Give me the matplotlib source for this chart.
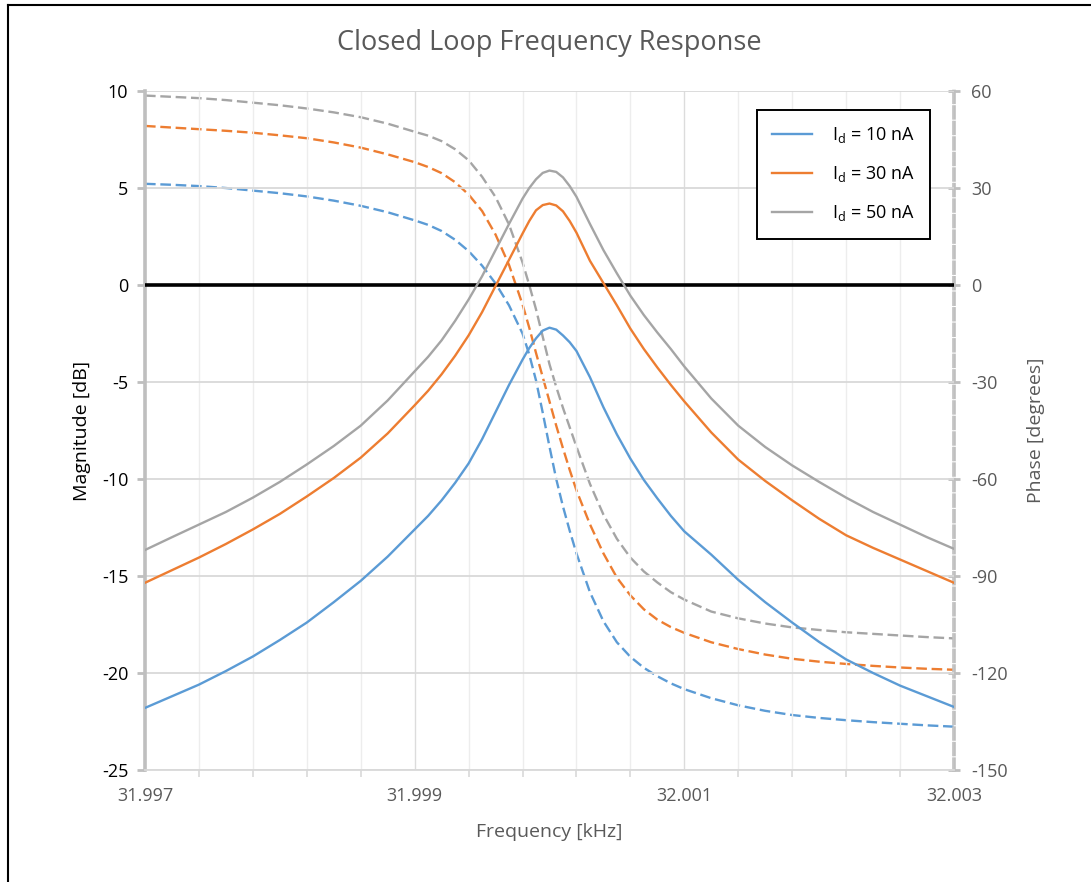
import numpy as np
import matplotlib
matplotlib.use('Agg')
import matplotlib.pyplot as plt
from matplotlib.lines import Line2D
from matplotlib.ticker import MultipleLocator, FixedLocator

plt.rcParams['font.family'] = ['Open Sans', 'DejaVu Sans']
plt.rcParams['mathtext.fontset'] = 'custom'
plt.rcParams['mathtext.rm'] = 'Open Sans'
plt.rcParams['mathtext.it'] = 'Open Sans'
plt.rcParams['axes.unicode_minus'] = False

# frequency points [kHz]
freq = [31.9970, 31.9972, 31.9974, 31.9976, 31.9978, 31.9980, 31.9982, 31.9984, 31.9986, 31.9988,
        31.9990, 31.9991, 31.9992, 31.9993, 31.9994, 31.9995, 31.9996, 31.9997, 31.9998, 31.99985,
        31.9999, 31.99995, 32.0000, 32.00005, 32.0001, 32.00015, 32.0002, 32.0003, 32.0004, 32.0005,
        32.0006, 32.0007, 32.0008, 32.0009, 32.0010,
        32.0012, 32.0014, 32.0016, 32.0018, 32.0020, 32.0022, 32.0024, 32.0026, 32.0028, 32.0030]

# magnitude [dB]
mag_10 = [-21.8, -21.2, -20.6, -19.9, -19.15, -18.3, -17.4, -16.35, -15.25, -14.0,
          -12.6, -11.9, -11.1, -10.2, -9.2, -7.95, -6.55, -5.15, -3.85, -3.25,
          -2.75, -2.35, -2.2, -2.3, -2.6, -2.95, -3.4, -4.75, -6.3, -7.7,
          -8.95, -10.05, -11.0, -11.9, -12.7,
          -13.9, -15.2, -16.35, -17.4, -18.4, -19.3, -20.0, -20.65, -21.2, -21.75]
mag_30 = [-15.35, -14.7, -14.05, -13.35, -12.6, -11.8, -10.9, -9.95, -8.9, -7.65,
          -6.2, -5.45, -4.6, -3.65, -2.6, -1.4, -0.05, 1.3, 2.65, 3.3,
          3.85, 4.12, 4.2, 4.1, 3.8, 3.3, 2.7, 1.25, 0.1, -1.05,
          -2.25, -3.3, -4.25, -5.15, -6.0,
          -7.6, -9.0, -10.1, -11.1, -12.05, -12.9, -13.55, -14.15, -14.75, -15.35]
mag_50 = [-13.66, -13.0, -12.35, -11.7, -10.96, -10.15, -9.25, -8.3, -7.25, -5.95,
          -4.45, -3.7, -2.85, -1.85, -0.75, 0.45, 1.8, 3.15, 4.45, 5.0,
          5.45, 5.78, 5.9, 5.83, 5.55, 5.1, 4.55, 3.15, 1.8, 0.6,
          -0.55, -1.55, -2.45, -3.3, -4.2,
          -5.85, -7.25, -8.35, -9.3, -10.15, -10.96, -11.7, -12.35, -13.0, -13.6]

# phase [degrees]
ph_10 = [31.3, 31.0, 30.6, 30.0, 29.2, 28.4, 27.4, 26.1, 24.5, 22.5,
         20.0, 18.6, 16.7, 14.0, 10.5, 6.0, 0.5, -6.3, -15.0, -21.5,
         -29.5, -39.5, -50.0, -60.0, -68.5, -76.0, -83.0, -95.0, -104.0, -110.5,
         -115.0, -118.4, -121.0, -123.2, -125.0,
         -127.8, -130.0, -131.7, -133.0, -133.9, -134.6, -135.2, -135.7, -136.2, -136.6]
ph_30 = [49.2, 48.7, 48.2, 47.7, 47.1, 46.3, 45.4, 44.1, 42.5, 40.4,
         38.0, 36.5, 34.6, 31.8, 28.0, 22.9, 15.6, 6.2, -6.0, -13.2,
         -21.0, -28.5, -36.0, -43.5, -50.5, -57.2, -63.5, -74.0, -83.0, -90.5,
         -96.0, -100.3, -103.5, -105.8, -107.6,
         -110.5, -112.6, -114.3, -115.6, -116.5, -117.2, -117.8, -118.3, -118.7, -119.0]
ph_50 = [58.6, 58.2, 57.8, 57.2, 56.4, 55.6, 54.6, 53.4, 51.9, 49.9,
         47.4, 46.2, 44.5, 42.0, 38.6, 33.5, 27.2, 18.7, 7.0, 0.0,
         -7.5, -16.0, -24.5, -31.5, -38.0, -44.0, -50.0, -61.5, -71.0, -78.5,
         -84.3, -88.6, -92.0, -95.0, -97.3,
         -101.0, -103.1, -104.7, -105.9, -106.7, -107.4, -107.9, -108.4, -108.9, -109.3]

labels = [r'I$_\mathrm{d}$ = 10 nA', r'I$_\mathrm{d}$ = 30 nA', r'I$_\mathrm{d}$ = 50 nA']
colors = ['#5B9BD5', '#ED7D31', '#A5A5A5']
gray_txt = '#595959'
axis_gray = '#BFBFBF'

fig = plt.figure(figsize=(10.91, 8.82), dpi=100)
ax = fig.add_axes([0.1329, 0.127, 0.7415, 0.7698])
ax2 = ax.twinx()

# gridlines
ax.set_xlim(31.997, 32.003)
ax.set_ylim(-25, 10)
ax.yaxis.set_major_locator(MultipleLocator(5))
ax.xaxis.set_major_locator(FixedLocator([31.997, 31.999, 32.001, 32.003]))
ax.xaxis.set_minor_locator(FixedLocator(np.linspace(31.997, 32.003, 16)))
ax.grid(axis='y', which='major', color='#D9D9D9', lw=1.3, zorder=0)
ax.grid(axis='x', which='minor', color='#EDEDED', lw=1.0, zorder=0)
ax.grid(axis='x', which='major', color='#DCDCDC', lw=1.0, zorder=0)
ax.set_axisbelow(True)

ax.axhline(0, color='black', lw=2.6, zorder=3)

for m, c in zip([mag_10, mag_30, mag_50], colors):
    ax.plot(freq, m, color=c, lw=1.7, zorder=4)

ax2.set_ylim(-150, 60)
ax2.yaxis.set_major_locator(MultipleLocator(30))
for p, c in zip([ph_10, ph_30, ph_50], colors):
    ax2.plot(freq, p, color=c, lw=1.7, dashes=(4.5, 2.0))

# spines
for a in (ax, ax2):
    a.spines['top'].set_visible(False)
ax.spines['right'].set_visible(False)
ax2.spines['left'].set_visible(False)
ax2.spines['bottom'].set_visible(False)
ax.spines['left'].set_color(axis_gray)
ax.spines['left'].set_linewidth(2.6)
ax.spines['bottom'].set_color('#D9D9D9')
ax.spines['bottom'].set_linewidth(1.3)
ax2.spines['right'].set_color(axis_gray)
ax2.spines['right'].set_linewidth(2.6)
ax2.spines['right'].set_linestyle((0, (3.0, 1.3)))

ax.tick_params(axis='y', which='major', direction='out', length=6, width=2,
               color=axis_gray, labelsize=13, labelcolor='black', pad=6)
ax.tick_params(axis='x', which='major', length=0, labelsize=13, labelcolor=gray_txt, pad=12)
ax.tick_params(axis='x', which='minor', direction='out', length=5, width=1.2,
               color='#D9D9D9')
ax.set_xticklabels(['31.997', '31.999', '32.001', '32.003'])
ax2.tick_params(axis='y', which='major', direction='inout', length=9, width=2,
                color=axis_gray, labelsize=13, labelcolor=gray_txt, pad=8)

ax.set_ylabel('Magnitude [dB]', fontsize=14, color='black', labelpad=8)
ax2.set_ylabel('Phase [degrees]', fontsize=14, color=gray_txt, labelpad=14)
ax.set_xlabel('Frequency [kHz]', fontsize=14, color=gray_txt, labelpad=13)

fig.text(0.5035, 0.951, 'Closed Loop Frequency Response', ha='center', va='center',
         fontsize=19.5, color=gray_txt)

handles = [Line2D([0], [0], color=c, lw=1.7) for c in colors]
leg = ax.legend(handles, labels, loc='upper right', bbox_to_anchor=(0.97, 0.972),
                fontsize=13, frameon=True, fancybox=False, framealpha=1,
                edgecolor='black', handlelength=2.2, handletextpad=1.1,
                labelspacing=1.05, borderpad=0.85, borderaxespad=0)
leg.get_frame().set_linewidth(1.4)
leg.set_zorder(10)
ax.set_zorder(ax2.get_zorder() + 1)
ax.patch.set_visible(False)

# outer border visible at left and top
fig.add_artist(Line2D([0.0075, 0.0075], [0.0, 0.994], color='black', lw=1.5,
                      transform=fig.transFigure))
fig.add_artist(Line2D([0.0075, 1.0], [0.994, 0.994], color='black', lw=1.5,
                      transform=fig.transFigure))

fig.savefig('out.png', dpi=100)
